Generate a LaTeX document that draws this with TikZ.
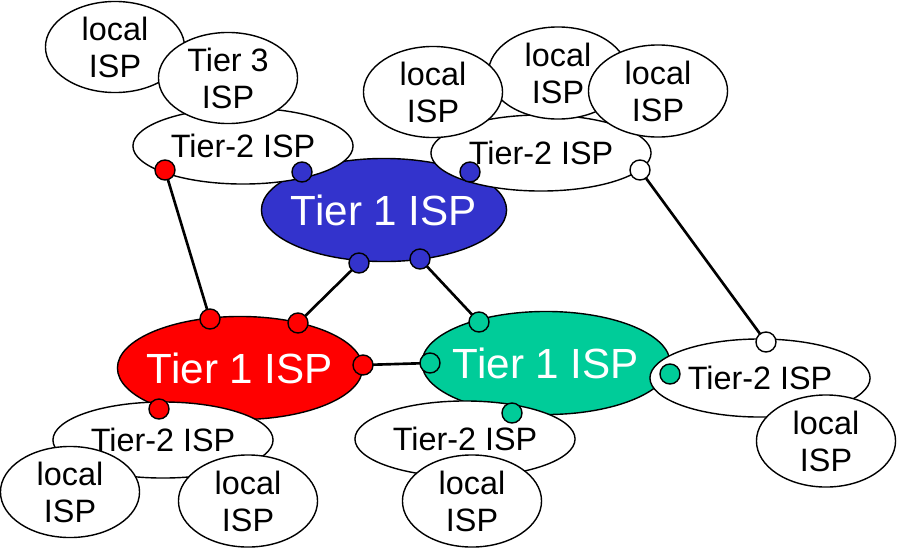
\documentclass[tikz,border=0pt]{standalone}
\usepackage{fontspec}
\setmainfont{Liberation Sans}
\usepackage{tikz}
\usetikzlibrary{shapes.geometric}
\definecolor{tierblue}{RGB}{51,51,204}
\definecolor{tierred}{RGB}{255,0,0}
\definecolor{tiergreen}{RGB}{0,204,153}
\newcommand\router[3]{%
\node[router, fill=#1] (#2) at (#3) {};
}
\tikzset{%
  isp/.style={ellipse, draw=black, line width=0.4pt, fill=white,
    inner sep=0pt, outer sep=0pt, font=\fontsize{9.2}{10.5}\selectfont},
  tierone/.style={isp, minimum width=2.45cm, minimum height=1.03cm,
    inner xsep=-0.5cm, text=white, font=\fontsize{12}{14}\selectfont},
  tiertwo/.style={isp, minimum width=2.2cm, minimum height=0.76cm},
  localisp/.style={isp, align=center, minimum width=1.39cm, minimum height=0.91cm},
  router/.style={circle, draw=black, line width=0.4pt, minimum size=0.2cm,
    inner sep=0pt, outer sep=0pt},
  link/.style={line width=0.75pt}
}

\begin{document}
\begin{tikzpicture}[x=0.01cm, y=-0.01cm]
	\useasboundingbox (0,0) rectangle (897,548);
	
	%% backbone
	\node[tierone, fill=tierblue] (blue) at (384,210) {Tier 1 ISP};
	\node[tierone, fill=tierred] (red) at (240,368) {Tier 1 ISP};
	\node[tierone, fill=tiergreen, minimum width=2.48cm] (green) at (546,363) {Tier 1 ISP};
	
	%% regional providers
	\node[tiertwo] (twonw) at (243,146) {Tier-2 ISP};
	\node[tiertwo] (twone) at (541,153) {Tier-2 ISP};
	\node[tiertwo] (twosw) at (163,440) {Tier-2 ISP};
	\node[tiertwo] (twos) at (465,439) {Tier-2 ISP};
	\node[tiertwo, minimum height=0.78cm] (twoe) at (760,378) {Tier-2 ISP};
	
	%% access networks
	\node[localisp] (localnw) at (115,47) {local\\ISP};
	\node[localisp] (tierthree) at (228,78) {Tier 3\\ISP};
	\node[localisp, minimum height=0.92cm] (localneb) at (558,73) {local\\ISP};
	\node[localisp] (localnea) at (433,92) {local\\ISP};
	\node[localisp, minimum height=0.92cm] (localnec) at (658,91) {local\\ISP};
	\node[localisp, minimum height=0.92cm] (locale) at (826,441) {local\\ISP};
	\node[localisp] (localswa) at (70,492) {local\\ISP};
	\node[localisp, minimum height=0.92cm] (localswb) at (248,501) {local\\ISP};
	\node[localisp, minimum height=0.92cm] (locals) at (472,501) {local\\ISP};
	
	%% points of presence
	\router{tierred}{rnw}{165,170}
	\router{tierblue}{bnw}{302,172}
	\router{tierblue}{bne}{470,172}
	\router{white}{wne}{640,170}
	\router{tierblue}{bsw}{359,263}
	\router{tierblue}{bse}{420,259}
	\router{tierred}{rn}{210,319}
	\router{tierred}{rne}{298,323}
	\router{tierred}{re}{363,365}
	\router{tierred}{rs}{159,409}
	\router{tiergreen}{gn}{479,322}
	\router{tiergreen}{gw}{430,363}
	\router{tiergreen}{ge}{670,374}
	\router{tiergreen}{gs}{512,413}
	\router{white}{we}{766,342}
	
	%% links
	\draw[link] (rnw) -- (rn);
	\draw[link] (rne) -- (bsw);
	\draw[link] (bse) -- (gn);
	\draw[link] (re) -- (gw);
	\draw[link] (wne) -- (we);
	
\end{tikzpicture}
\end{document}
